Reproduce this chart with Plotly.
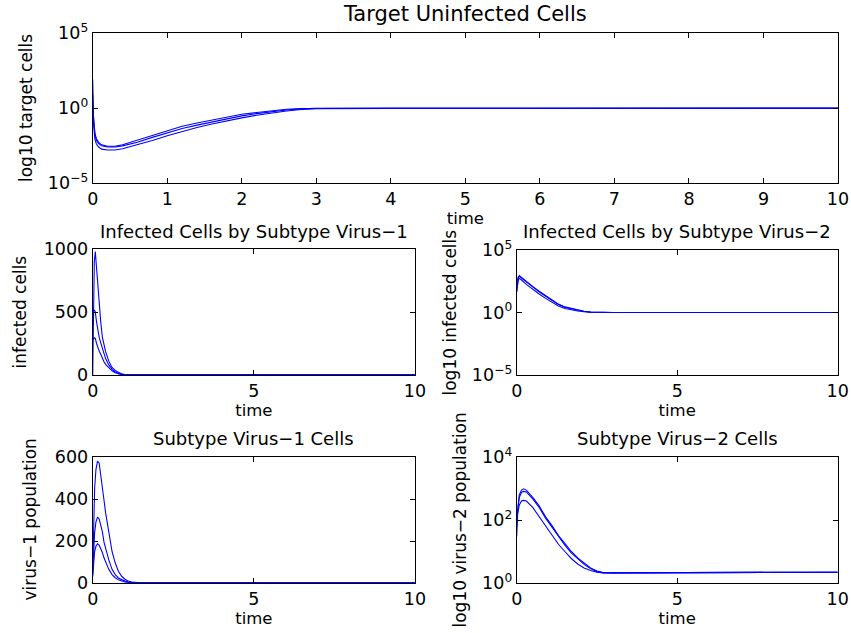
import plotly.graph_objects as go

# ---------------- data ----------------
# Target uninfected cells (log axis)
t_target = [0, 0.01, 0.03, 0.05, 0.08, 0.12, 0.2, 0.3, 0.4, 0.6, 0.8, 1.0, 1.2, 1.4, 1.6,
            1.8, 2.0, 2.2, 2.4, 2.6, 2.8, 3.0, 4, 5, 6, 7, 8, 9, 9.9, 10]
target_a = [79, 0.32, 0.02, 0.0089, 0.005, 0.0035, 0.0028, 0.0028, 0.0035, 0.0071, 0.016, 0.032,
            0.06, 0.1, 0.16, 0.25, 0.38, 0.5, 0.66, 0.83, 0.93, 0.95, 0.95, 0.95, 0.95, 0.95,
            0.95, 0.95, 0.95, 1.0]
target_b = [8, 0.2, 0.015, 0.007, 0.0042, 0.003, 0.0025, 0.0025, 0.003, 0.0052, 0.011, 0.023,
            0.043, 0.072, 0.12, 0.19, 0.3, 0.42, 0.57, 0.74, 0.88, 0.94, 0.95, 0.95, 0.95, 0.95,
            0.95, 0.95, 0.95, 0.95]
target_c = [1.5, 0.1, 0.008, 0.004, 0.0025, 0.0018, 0.0016, 0.0016, 0.0019, 0.0034, 0.0068,
            0.014, 0.028, 0.05, 0.085, 0.14, 0.22, 0.33, 0.47, 0.63, 0.8, 0.91, 0.95, 0.95, 0.95,
            0.95, 0.95, 0.95, 0.95, 0.95]

# Infected cells by subtype virus-1 (linear)
t_inf1 = [0, 0.02, 0.05, 0.08, 0.12, 0.16, 0.2, 0.25, 0.3, 0.35, 0.4, 0.5, 0.6, 0.7, 0.8, 0.9,
          1.0, 1.2, 1.5, 2, 3, 5, 10]
inf1_a = [0, 600, 900, 980, 850, 650, 540, 420, 300, 240, 185, 110, 60, 36, 20, 9, 3, 1, 1, 1,
          1, 1, 1]
inf1_b = [540, 500, 516, 500, 420, 345, 300, 255, 210, 165, 130, 80, 45, 24, 11, 5, 2, 1, 1, 1,
          1, 1, 1]
inf1_c = [300, 280, 295, 290, 250, 215, 190, 165, 130, 105, 85, 55, 33, 18, 9, 5, 2, 1, 1, 1,
          1, 1, 1]

# Infected cells by subtype virus-2 (log)
t_inf2 = [0, 0.02, 0.05, 0.08, 0.15, 0.3, 0.5, 0.7, 0.9, 1.1, 1.3, 1.5, 1.7, 1.9, 2.1, 2.3, 3,
          5, 10]
inf2_a = [47, 316, 630, 890, 630, 280, 117, 50, 22, 10, 4.7, 2.8, 2.1, 1.6, 1.26, 1.1, 1, 1, 1]
inf2_b = [47, 250, 450, 540, 400, 178, 71, 30, 13.5, 6.3, 3.3, 2.1, 1.6, 1.3, 1.15, 1.05, 1, 1, 1]
inf2_c = [200, 400, 700, 800, 580, 260, 108, 46, 20, 9, 4.3, 2.6, 2.0, 1.5, 1.2, 1.07, 1, 1, 1]

# Subtype virus-1 cells (linear)
t_vir1 = [0, 0.03, 0.06, 0.1, 0.15, 0.2, 0.25, 0.3, 0.35, 0.4, 0.5, 0.6, 0.7, 0.8, 0.9, 1.0,
          1.1, 1.2, 1.4, 2, 3, 5, 10]
vir1_a = [60, 250, 450, 540, 580, 572, 520, 460, 395, 335, 240, 150, 95, 55, 32, 18, 10, 5, 2,
          1, 1, 1, 1]
vir1_b = [40, 150, 240, 290, 314, 305, 275, 245, 195, 165, 110, 65, 40, 24, 15, 9, 5, 3, 1, 1,
          1, 1, 1]
vir1_c = [30, 100, 150, 175, 187, 180, 165, 145, 120, 100, 65, 40, 25, 15, 9, 5, 3, 2, 1, 1, 1,
          1, 1]

# Subtype virus-2 cells (log)
t_vir2 = [0, 0.03, 0.08, 0.15, 0.22, 0.3, 0.5, 0.7, 0.9, 1.1, 1.3, 1.5, 1.7, 1.9, 2.1, 2.3, 2.5,
          2.7, 3, 4.3, 4.5, 10]
vir2_a = [100, 250, 630, 890, 980, 890, 525, 280, 126, 66, 32, 18, 10, 6.3, 4.2, 3.0, 2.4, 2.15,
          2.1, 2.1, 2.2, 2.2]
vir2_b = [60, 200, 520, 760, 810, 780, 470, 250, 115, 58, 29, 16, 9, 5.8, 3.9, 2.9, 2.3, 2.1,
          2.1, 2.1, 2.2, 2.2]
vir2_c = [30, 150, 300, 400, 420, 400, 250, 125, 68, 33, 17, 10, 6, 4, 3, 2.5, 2.2, 2.1, 2.1,
          2.1, 2.2, 2.2]

titles = ["Target Uninfected Cells", "Infected Cells by Subtype Virus\u22121",
          "Infected Cells by Subtype Virus\u22122", "Subtype Virus\u22121 Cells",
          "Subtype Virus\u22122 Cells"]
ylabels = ["log10 target cells", "infected cells", "log10 infected cells",
           "virus\u22121 population", "log10 virus\u22122 population"]
xlabel = "time"

# ---------------- figure ----------------
W, H = 851, 633
FONT = "DejaVu Sans, Arial, sans-serif"
FS_TICK = 17.5
FS_LABEL = 16.5
FS_YLABEL = 17
FS_TITLE = [21, 18, 18, 18, 18]
BLUE = "#0000ff"

# panel boxes in window pixels: (left, right, top, bottom)
boxes = [(92.7, 838, 33, 183), (92.7, 415, 249, 375), (516.7, 837.7, 250, 375),
         (92.7, 415, 457, 583), (516.7, 837.7, 457, 583)]
title_y = [14, 231, 231, 438, 438]
ylabel_x = [26, 19.5, 449, 29.5, 459.5]

def px(x):
    return x / W

def py(y):
    return 1 - y / H

panels = [
    (t_target, [target_a, target_b, target_c]),
    (t_inf1, [inf1_a, inf1_b, inf1_c]),
    (t_inf2, [inf2_a, inf2_b, inf2_c]),
    (t_vir1, [vir1_a, vir1_b, vir1_c]),
    (t_vir2, [vir2_a, vir2_b, vir2_c]),
]

fig = go.Figure()
for i, (tt, series) in enumerate(panels):
    xa = "x" if i == 0 else f"x{i+1}"
    ya = "y" if i == 0 else f"y{i+1}"
    for s in series:
        fig.add_trace(go.Scatter(x=tt, y=s, mode="lines", xaxis=xa, yaxis=ya,
                                 line=dict(color=BLUE, width=1.1), showlegend=False,
                                 hoverinfo="x+y"))

def sup(e):
    return "10<sup>%s</sup>" % (str(e).replace("-", "\u2212"))

axis_common = dict(showline=True, linecolor="black", linewidth=1, mirror="ticks",
                   ticks="inside", ticklen=5, tickcolor="black", showgrid=False,
                   zeroline=False, automargin=False,
                   tickfont=dict(family=FONT, size=FS_TICK, color="black"))

yspecs = [
    dict(type="log", range=[-5, 5], tickvals=[1e-5, 1, 1e5], ticktext=[sup(-5), sup(0), sup(5)]),
    dict(type="linear", range=[0, 1000], tickvals=[0, 500, 1000]),
    dict(type="log", range=[-5, 5], tickvals=[1e-5, 1, 1e5], ticktext=[sup(-5), sup(0), sup(5)]),
    dict(type="linear", range=[0, 600], tickvals=[0, 200, 400, 600]),
    dict(type="log", range=[0, 4], tickvals=[1, 100, 1e4], ticktext=[sup(0), sup(2), sup(4)]),
]

layout = dict(width=W, height=H, margin=dict(l=0, r=0, t=0, b=0),
              paper_bgcolor="white", plot_bgcolor="white",
              font=dict(family=FONT, size=FS_LABEL, color="black"), annotations=[])

for i, (l, r, t, b) in enumerate(boxes):
    kx = "xaxis" if i == 0 else f"xaxis{i+1}"
    ky = "yaxis" if i == 0 else f"yaxis{i+1}"
    xs = "x" if i == 0 else f"x{i+1}"
    ys = "y" if i == 0 else f"y{i+1}"
    xt = list(range(0, 11)) if i == 0 else [0, 5, 10]
    layout[kx] = dict(axis_common, domain=[px(l), px(r)], anchor=ys, range=[0, 10],
                      tickvals=xt,
                      title=dict(text=xlabel, standoff=1,
                                 font=dict(family=FONT, size=FS_LABEL, color="black")))
    layout[ky] = dict(axis_common, domain=[py(b), py(t)], anchor=xs, **yspecs[i])
    layout["annotations"].append(dict(
        text=titles[i], xref="paper", yref="paper", x=px((l + r) / 2),
        y=py(title_y[i]), xanchor="center", yanchor="middle", showarrow=False,
        font=dict(family=FONT, size=FS_TITLE[i], color="black")))
    layout["annotations"].append(dict(
        text=ylabels[i], xref="paper", yref="paper", x=px(ylabel_x[i]),
        y=py((t + b) / 2), xanchor="center", yanchor="middle", textangle=-90,
        showarrow=False, font=dict(family=FONT, size=FS_YLABEL, color="black")))

fig.update_layout(**layout)
# remove the browser's default 8px body margin so the figure sits at the window origin
fig.write_html("out.html", config={"displayModeBar": False},
               post_script="document.body.style.margin='0';document.body.style.overflow='hidden';")
